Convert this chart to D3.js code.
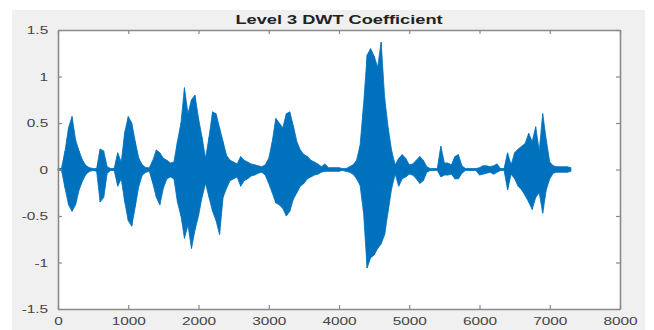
<!DOCTYPE html>
<html>
<head>
<meta charset="utf-8">
<script src="https://cdn.jsdelivr.net/npm/d3@7"></script>
<style>
  body { margin: 0; background: #fff; }
  svg { display: block; }
  .tick text { font-family: "Liberation Sans", Arial, sans-serif; }
</style>
</head>
<body>
<div id="chart"></div>
<script>
// envelope of the level 3 DWT coefficients, one pair per 50 samples (0 .. 7300)
const sampleStep = 50;
const upperEnv = [
  0.01, 0.01, 0.2, 0.45, 0.57, 0.32, 0.2, 0.1, 0.04, 0.02,
  0.01, 0.01, 0.22, 0.2, 0.03, 0.01, 0.01, 0.18, 0.08, 0.4,
  0.57, 0.5, 0.3, 0.12, 0.05, 0.02, 0.02, 0.1, 0.21, 0.18,
  0.12, 0.1, 0.07, 0.08, 0.3, 0.5, 0.88, 0.6, 0.75, 0.8,
  0.55, 0.35, 0.12, 0.35, 0.62, 0.6, 0.45, 0.3, 0.15, 0.1,
  0.08, 0.06, 0.14, 0.1, 0.08, 0.06, 0.05, 0.04, 0.03, 0.05,
  0.12, 0.3, 0.55, 0.5, 0.45, 0.6, 0.62, 0.47, 0.3, 0.21,
  0.16, 0.14, 0.1, 0.08, 0.06, 0.03, 0.06, 0.02, 0.02, 0.02,
  0.02, 0.01, 0.01, 0.03, 0.05, 0.1, 0.26, 0.7, 1.23, 1.3,
  1.22, 1.1, 1.37, 0.77, 0.45, 0.2, 0.05, 0.12, 0.16, 0.12,
  0.05, 0.06, 0.1, 0.14, 0.1, 0.03, 0.01, 0.01, 0.01, 0.25,
  0.07, 0.07, 0.05, 0.14, 0.16, 0.04, 0.01, 0.01, 0.01, 0.01,
  0.02, 0.04, 0.04, 0.03, 0.04, 0.06, 0.01, 0.01, 0.18, 0.05,
  0.18, 0.22, 0.25, 0.28, 0.39, 0.3, 0.46, 0.2, 0.6, 0.32,
  0.08, 0.04, 0.03, 0.03, 0.03, 0.03, 0.02
];
const lowerEnv = [
  -0.01, -0.01, -0.2, -0.38, -0.45, -0.38, -0.22, -0.12, -0.05, -0.02,
  -0.01, -0.02, -0.35, -0.3, -0.04, -0.01, -0.01, -0.18, -0.1, -0.35,
  -0.55, -0.61, -0.4, -0.18, -0.06, -0.03, -0.02, -0.15, -0.3, -0.38,
  -0.2, -0.1, -0.08, -0.1, -0.35, -0.5, -0.74, -0.6, -0.85, -0.65,
  -0.5, -0.3, -0.15, -0.3, -0.45, -0.55, -0.7, -0.3, -0.2, -0.12,
  -0.1, -0.08, -0.18, -0.12, -0.1, -0.07, -0.06, -0.04, -0.03, -0.06,
  -0.15, -0.25, -0.36, -0.38, -0.42, -0.5, -0.45, -0.32, -0.25, -0.18,
  -0.15, -0.1, -0.08, -0.06, -0.05, -0.03, -0.02, -0.02, -0.02, -0.02,
  -0.02, -0.01, -0.02, -0.03, -0.05, -0.1, -0.17, -0.47, -1.06, -0.95,
  -0.92, -0.85, -0.8, -0.7, -0.45, -0.2, -0.05, -0.18, -0.1, -0.08,
  -0.05, -0.06, -0.1, -0.15, -0.12, -0.03, -0.01, -0.01, -0.01, -0.08,
  -0.06, -0.06, -0.05, -0.1, -0.1, -0.04, -0.01, -0.01, -0.01, -0.01,
  -0.06, -0.05, -0.04, -0.03, -0.05, -0.03, -0.01, -0.01, -0.22, -0.05,
  -0.1, -0.18, -0.22, -0.28, -0.35, -0.43, -0.3, -0.25, -0.47, -0.22,
  -0.1, -0.04, -0.03, -0.03, -0.03, -0.03, -0.02
];
const xTicks = [0, 1000, 2000, 3000, 4000, 5000, 6000, 7000, 8000];
const yTicks = [-1.5, -1, -0.5, 0, 0.5, 1, 1.5];
const chartTitle = 'Level 3 DWT Coefficient';

const W = 654, H = 330;
const box = {left: 58, right: 620, top: 30, bottom: 309};
const stretch = 1.4;   // the picture is squeezed wide, text too
const blue = '#0072bd';

const svg = d3.select('#chart').append('svg')
  .attr('width', W).attr('height', H);

svg.append('rect')
  .attr('x', 12).attr('y', 10)
  .attr('width', 633).attr('height', H - 10)
  .attr('fill', '#f0f0f0');

svg.append('rect')
  .attr('x', box.left).attr('y', box.top)
  .attr('width', box.right - box.left).attr('height', box.bottom - box.top)
  .attr('fill', '#fff');

const x = d3.scaleLinear().domain([0, 8000]).range([box.left, box.right]);
const y = d3.scaleLinear().domain([-1.5, 1.5]).range([box.bottom, box.top]);

const samples = upperEnv.map((hi, i) => ({n: i * sampleStep, hi, lo: lowerEnv[i]}));

const area = d3.area()
  .x(d => x(d.n))
  .y0(d => y(d.lo))
  .y1(d => y(d.hi));

svg.append('path')
  .datum(samples)
  .attr('d', area)
  .attr('fill', blue)
  .attr('stroke', blue)
  .attr('stroke-width', 0.8)
  .attr('stroke-linejoin', 'round');

// per-sample strokes, gives the signal its spiky texture
const zig = d3.line().x(d => x(d[0])).y(d => y(d[1]));
svg.append('path')
  .datum(samples.flatMap(d => [[d.n, d.hi], [d.n, d.lo]]))
  .attr('d', zig)
  .attr('fill', 'none')
  .attr('stroke', blue)
  .attr('stroke-opacity', 0.6)
  .attr('stroke-width', 0.7);

const axisColor = '#8a8a8a';
const styleAxis = (g) => {
  g.select('.domain').attr('stroke', axisColor).attr('stroke-width', 1.6);
  g.selectAll('.tick line').attr('stroke', axisColor).attr('stroke-width', 1.2);
  g.selectAll('.tick text')
    .attr('fill', '#444')
    .attr('font-size', 11);
};
const plain = d => String(d);

svg.append('g')
  .attr('transform', `translate(0,${box.bottom})`)
  .call(d3.axisBottom(x).tickValues(xTicks).tickSizeInner(-4).tickSizeOuter(0).tickPadding(8)
    .tickFormat(plain))
  .call(styleAxis)
  .call(g => g.selectAll('.tick text').attr('transform', `scale(${stretch},1)`));

svg.append('g')
  .attr('transform', `translate(${box.left},0)`)
  .call(d3.axisLeft(y).tickValues(yTicks).tickSizeInner(-4).tickSizeOuter(0).tickPadding(7)
    .tickFormat(plain))
  .call(styleAxis)
  .call(g => g.selectAll('.tick text').attr('transform', `scale(${stretch},1)`));

svg.append('g')
  .attr('transform', `translate(0,${box.top})`)
  .call(d3.axisTop(x).tickValues(xTicks).tickSizeInner(-4).tickSizeOuter(0).tickFormat(''))
  .call(styleAxis);

svg.append('g')
  .attr('transform', `translate(${box.right},0)`)
  .call(d3.axisRight(y).tickValues(yTicks).tickSizeInner(-4).tickSizeOuter(0).tickFormat(''))
  .call(styleAxis);

svg.append('text')
  .attr('transform', `translate(${(box.left + box.right) / 2},24) scale(${stretch},1)`)
  .attr('text-anchor', 'middle')
  .attr('font-family', '"Liberation Sans", Arial, sans-serif')
  .attr('font-weight', 'bold')
  .attr('font-size', 13)
  .attr('fill', '#222')
  .text(chartTitle);
</script>
</body>
</html>
